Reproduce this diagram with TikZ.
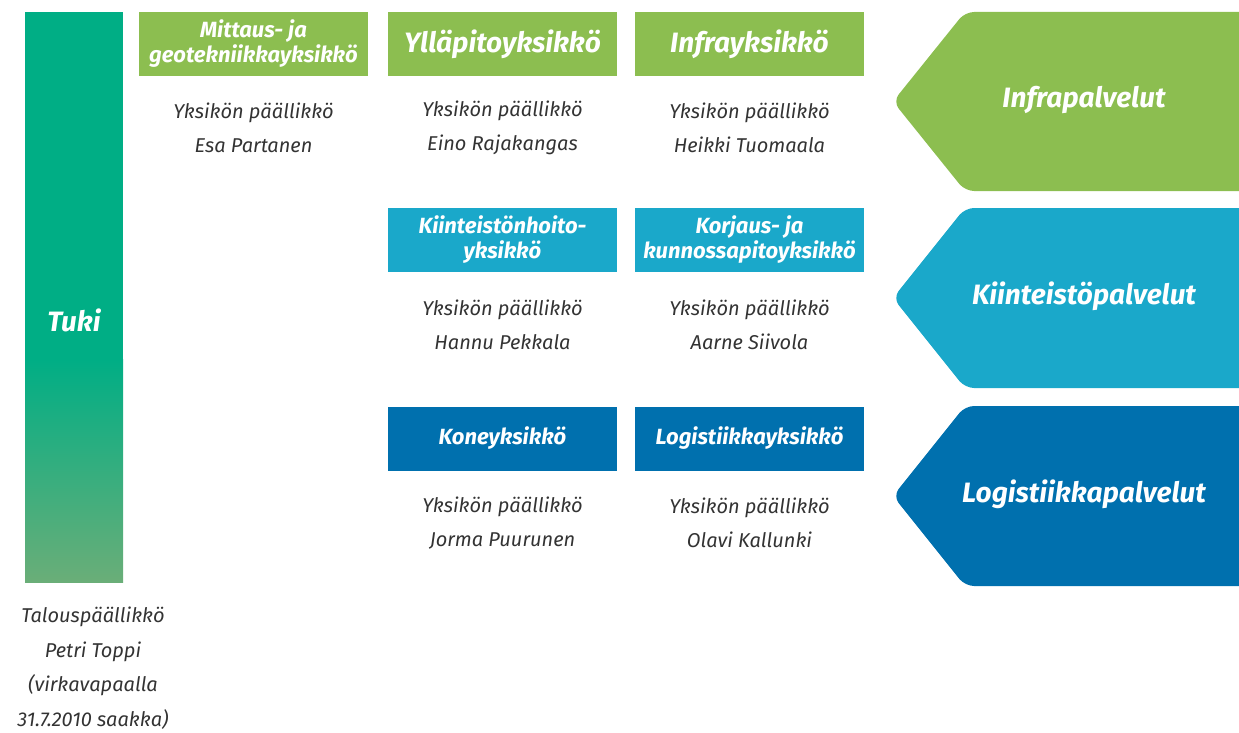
\documentclass[tikz,border=0pt]{standalone}
\usepackage{fontspec}
\setmainfont{Fira Sans}
\definecolor{infragreen}{HTML}{8CBE50}
\definecolor{kiinblue}{HTML}{1AA8CA}
\definecolor{logblue}{HTML}{0070AE}
\definecolor{tukitop}{HTML}{00AE85}
\definecolor{tukibot}{HTML}{6AAE78}
\definecolor{nametext}{HTML}{333333}
\begin{document}
\begin{tikzpicture}[x=1pt,y=-1pt]
    \tikzstyle{every node}+=[inner sep=0pt]
    \tikzstyle{unit}=[text=white, font=\fontsize{22}{25}\selectfont\bfseries\itshape, minimum width=229, minimum height=64, align=center]
    \tikzstyle{head}=[unit, font=\fontsize{28}{30}\selectfont\bfseries\itshape]
    \tikzstyle{boss}=[text=nametext, font=\fontsize{20}{34.5}\selectfont\itshape, align=center]
    \tikzstyle{area}=[text=white, font=\fontsize{28}{32}\selectfont\bfseries\itshape]
    \useasboundingbox (0,0) rectangle (1239,733);
    % tuki bar
    \fill [tukitop] (25,12) rectangle (123,360);
    \shade [top color=tukitop, bottom color=tukibot] (25,359) rectangle (123,582);
    \draw (74,320) node [area] (tuki) {Tuki};
    \draw (93,668) node [boss] (talous) {Talouspäällikkö\\Petri Toppi\\(virkavapaalla\\31.7.2010 saakka)};
    % service areas
    \fill [infragreen] (1239,12) [rounded corners=9] -- (965,12) -- (893,101.5) -- (965,191) [sharp corners] -- (1239,191) -- cycle;
    \draw (1084,100) node [area] (infra) {Infrapalvelut};
    \fill [kiinblue] (1239,208) [rounded corners=9] -- (965,208) -- (893,298) -- (965,388) [sharp corners] -- (1239,388) -- cycle;
    \draw (1084,296) node [area] (kiint) {Kiinteistöpalvelut};
    \fill [logblue] (1239,406) [rounded corners=9] -- (965,406) -- (893,496) -- (965,586) [sharp corners] -- (1239,586) -- cycle;
    \draw (1084,494) node [area] (logis) {Logistiikkapalvelut};
    % units, row 1
    \draw (253.5,44) node [unit, fill=infragreen] (mittaus) {Mittaus- ja\\geotekniikkayksikkö};
    \draw (253.5,128) node [boss] (mittausboss) {Yksikön päällikkö\\Esa Partanen};
    \draw (502.5,44) node [head, fill=infragreen] (yllapito) {Ylläpitoyksikkö};
    \draw (502.5,128) node [boss] (yllapitoboss) {Yksikön päällikkö\\Eino Rajakangas};
    \draw (749.5,44) node [head, fill=infragreen] (infrayk) {Infrayksikkö};
    \draw (749.5,128) node [boss] (infraboss) {Yksikön päällikkö\\Heikki Tuomaala};
    % units, row 2
    \draw (502.5,240) node [unit, fill=kiinblue] (hoito) {Kiinteistönhoito-\\yksikkö};
    \draw (502.5,325) node [boss] (hoitoboss) {Yksikön päällikkö\\Hannu Pekkala};
    \draw (749.5,240) node [unit, fill=kiinblue] (korjaus) {Korjaus- ja\\kunnossapitoyksikkö};
    \draw (749.5,325) node [boss] (korjausboss) {Yksikön päällikkö\\Aarne Siivola};
    % units, row 3
    \draw (502.5,438.5) node [unit, fill=logblue] (kone) {Koneyksikkö};
    \draw (502.5,523) node [boss] (koneboss) {Yksikön päällikkö\\Jorma Puurunen};
    \draw (749.5,438.5) node [unit, fill=logblue] (logyk) {Logistiikkayksikkö};
    \draw (749.5,523) node [boss] (logboss) {Yksikön päällikkö\\Olavi Kallunki};
\end{tikzpicture}
\end{document}
